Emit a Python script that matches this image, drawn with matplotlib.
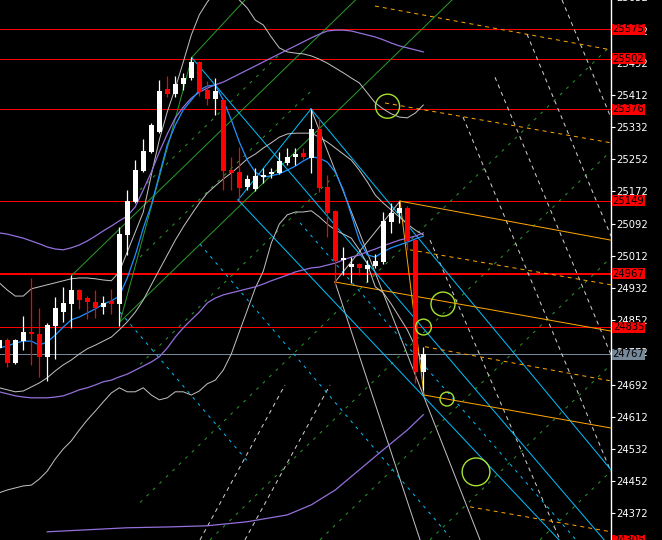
import matplotlib
matplotlib.use("Agg")
import matplotlib.pyplot as plt
import matplotlib.transforms as mtransforms
from matplotlib.patches import Rectangle

# ---- candles (bar index -1 .. 52) ----
bars = list(range(-1, 53))
opens = [24783, 24803, 24746, 24800, 24823, 24818, 24761, 24838, 24872, 24892,
         24927, 24907, 24897, 24885, 24900, 24892, 25064, 25146, 25223, 25270,
         25320, 25427, 25414, 25439, 25454, 25494, 25424, 25402, 25399, 25225,
         25220, 25183, 25178, 25208, 25216, 25218, 25243, 25258, 25268, 25255,
         25327, 25183, 25124, 25002, 24984, 24992, 24979, 24987, 24997, 25096,
         25119, 25131, 25051, 24723]
highs = [24805, 24808, 24805, 24862, 24957, 24882, 24845, 24910, 24935, 24964,
         24930, 24912, 24927, 24912, 24930, 25084, 25176, 25250, 25303, 25342,
         25449, 25459, 25459, 25467, 25506, 25496, 25447, 25454, 25404, 25258,
         25283, 25213, 25230, 25230, 25230, 25270, 25280, 25280, 25280, 25377,
         25357, 25213, 25126, 25034, 25009, 24994, 25002, 25017, 25121, 25143,
         25149, 25136, 25053, 24786]
lows = [24781, 24736, 24743, 24778, 24741, 24711, 24701, 24756, 24848, 24833,
        24880, 24855, 24858, 24868, 24868, 24838, 25014, 25143, 25220, 25268,
        25317, 25407, 25407, 25424, 25449, 25409, 25387, 25362, 25176, 25176,
        25151, 25176, 25173, 25193, 25206, 25216, 25238, 25238, 25253, 25218,
        25171, 25059, 24940, 24964, 24945, 24964, 24947, 24982, 24992, 25069,
        25094, 25027, 24696, 24679]
closes = [24803, 24746, 24803, 24823, 24818, 24761, 24840, 24883, 24895, 24927,
          24902, 24897, 24882, 24895, 24892, 25066, 25148, 25225, 25273, 25337,
          25422, 25414, 25439, 25454, 25494, 25419, 25402, 25422, 25223, 25218,
          25181, 25203, 25211, 25213, 25220, 25248, 25258, 25265, 25258, 25327,
          25181, 25119, 25000, 25007, 24992, 24982, 24989, 24999, 25099, 25119,
          25131, 25049, 24723, 24767]

# ---- indicator curves (one value per bar) ----
fast_ma = [24783, 24788, 24795, 24800, 24800, 24790, 24798, 24815, 24835, 24853,
           24860, 24870, 24880, 24892, 24900, 24912, 24957, 25014, 25081, 25138,
           25213, 25288, 25337, 25375, 25399, 25424, 25434, 25437, 25399, 25350,
           25295, 25250, 25220, 25208, 25211, 25216, 25225, 25235, 25248, 25258,
           25255, 25245, 25220, 25176, 25114, 25051, 25014, 25009, 25022, 25032,
           25039, 25046, 25054, 25061]
env_upper = [25069, 25066, 25061, 25056, 25049, 25042, 25034, 25029, 25027, 25032,
             25039, 25049, 25061, 25074, 25086, 25099, 25111, 25134, 25176, 25220,
             25270, 25315, 25355, 25382, 25404, 25419, 25429, 25437, 25444, 25454,
             25464, 25474, 25484, 25494, 25504, 25514, 25524, 25534, 25544, 25554,
             25563, 25571, 25573, 25573, 25571, 25566, 25561, 25556, 25549, 25541,
             25534, 25529, 25524, 25519]
env_lower = [24674, 24669, 24664, 24661, 24659, 24659, 24659, 24661, 24664, 24671,
             24679, 24684, 24691, 24699, 24703, 24711, 24718, 24728, 24738, 24748,
             24761, 24783, 24810, 24833, 24853, 24872, 24895, 24907, 24915, 24920,
             24925, 24930, 24935, 24942, 24950, 24957, 24964, 24972, 24977, 24982,
             24984, 24989, 24994, 25002, 25009, 25014, 25022, 25029, 25037, 25044,
             25051, 25056, 25061, 25069]
bb_upper = [24945, 24927, 24912, 24912, 24930, 24935, 24940, 24945, 24950, 24955,
            24957, 24957, 24955, 24952, 24950, 24972, 25022, 25071, 25121, 25213,
            25300, 25370, 25429, 25494, 25561, 25611, 25643, 25668, 25678, 25668,
            25648, 25628, 25598, 25586, 25556, 25529, 25519, 25516, 25514, 25509,
            25501, 25491, 25479, 25467, 25454, 25442, 25417, 25392, 25377, 25365,
            25357, 25355, 25367, 25387]
bb_mid = [24684, 24679, 24674, 24676, 24686, 24696, 24709, 24726, 24741, 24753,
          24768, 24781, 24790, 24800, 24810, 24828, 24848, 24872, 24902, 24940,
          24977, 25014, 25051, 25084, 25114, 25143, 25168, 25186, 25203, 25218,
          25235, 25253, 25265, 25280, 25293, 25307, 25315, 25317, 25317, 25317,
          25307, 25295, 25280, 25265, 25250, 25225, 25196, 25163, 25143, 25126,
          25109, 25091, 25076, 25064]
bb_lower = [24423, 24430, 24435, 24440, 24442, 24457, 24477, 24507, 24532, 24552,
            24579, 24604, 24626, 24649, 24671, 24684, 24674, 24674, 24684, 24666,
            24654, 24659, 24674, 24674, 24666, 24676, 24694, 24703, 24728, 24768,
            24823, 24877, 24932, 24974, 25044, 25091, 25114, 25121, 25121, 25124,
            25109, 25091, 25076, 25066, 25056, 25027, 24992, 24935, 24920, 24892,
            24860, 24828, 24786, 24741]
slow_bars = [5, 10, 15, 20, 25, 30, 35, 38, 41, 44, 47, 50, 52]
slow_lower = [24326, 24331, 24336, 24338, 24341, 24351, 24368, 24393, 24430,
              24480, 24530, 24579, 24617]

# ---- drawn objects: (bar0, price0, bar1, price1) ----
green_solid = [(14.09, 24848, 55.59, 25648), (8.09, 24964, 43.52, 25648),
               (14.09, 24848, 23.09, 25506), (23.09, 25506, 29.71, 25648)]
green_dashed = [(16.6, 24742, 41.0, 25213), (16.6, 25009, 38.3, 25428),
                (16.6, 25176, 34.3, 25518), (25.34, 24306, 75.46, 25273),
                (16.6, 24399, 75.46, 25535), (39.09, 24306, 75.46, 25008),
                (52.84, 24306, 75.46, 24742), (66.59, 24306, 75.46, 24477)]
blue_solid = [(23.09, 25504, 75.46, 24286), (37.96, 25377, 28.84, 25151),
              (37.96, 25377, 75.46, 24480), (28.84, 25151, 75.46, 24169)]
blue_dashed = [(24.09, 25041, 55.34, 24313), (36.59, 25094, 71.09, 24306),
               (14.09, 24872, 30.09, 24500)]
orange_solid = [(49.09, 25148, 75.46, 25051), (40.96, 24947, 75.46, 24825),
                (49.09, 25148, 52.09, 24666), (52.09, 24666, 75.46, 24584)]
orange_dashed = [(45.96, 25633, 75.46, 25524), (47.21, 25392, 75.46, 25293),
                 (50.34, 25027, 75.46, 24940), (52.21, 24786, 75.46, 24701),
                 (57.84, 24388, 75.46, 24326)]
gray_dashed = [(69.34, 25648, 75.46, 25355), (64.96, 25563, 75.46, 25061),
               (60.96, 25456, 75.46, 24766), (56.96, 25357, 75.46, 24475),
               (52.84, 25051, 69.09, 24306), (24.09, 24306, 34.71, 24691),
               (29.71, 24306, 40.34, 24691)]
gray_solid = [(40.96, 24947, 49.09, 25148), (37.96, 25377, 59.09, 24306),
              (40.96, 24947, 51.59, 24306)]
circle_bars = [47.53, 54.46, 52.02, 54.96, 58.59]
circle_prices = [25384, 24892, 24835, 24656, 24475]
circle_sizes = [300, 300, 130, 100, 400]

level_red = [25575, 25502, 25376, 25149, 24835]
level_main = 24967
level_now = 24767
box_levels = ['25575', '25502', '25376', '25149', '24967', '24835', '24305']
tick_prices = [25572, 25492, 25412, 25332, 25252, 25172, 25092, 25012, 24932,
               24852, 24772, 24692, 24612, 24532, 24452, 24372]

FONT = ['Liberation Sans Narrow', 'DejaVu Sans']
LW = 0.72  # one screen pixel

fig = plt.figure(figsize=(6.62, 5.4), dpi=100)
fig.set_facecolor('black')
ax = fig.add_axes([0, 0, 611 / 662, 1])
ax.set_facecolor('black')
ax.set_xlim(-0.91, 75.46)
ax.set_ylim(24305.6, 25648)

for s in ['top', 'bottom', 'left']:
    ax.spines[s].set_visible(False)
ax.spines['right'].set_color('white')
ax.spines['right'].set_linewidth(1)
ax.set_xticks([])
ax.yaxis.tick_right()
ax.set_yticks(tick_prices)
ax.set_yticklabels([str(t) for t in tick_prices], family=FONT)
ax.tick_params(axis='y', colors='white', labelsize=7.2, length=3, width=0.8, pad=1)

# horizontal levels
for lv in level_red:
    ax.axhline(lv, color='#ff0000', lw=LW, zorder=2)
ax.axhline(level_main, color='#ff0000', lw=1.45, zorder=2)
ax.axhline(level_now, color='#778899', lw=LW, zorder=2)


def segs(lst, **kw):
    for b0, p0, b1, p1 in lst:
        ax.plot([b0, b1], [p0, p1], **kw)


segs(green_solid, color='#2a9a2a', lw=LW, zorder=3)
segs(green_dashed, color='#2a9a2a', lw=LW, ls=(0, (3, 6)), zorder=3)
segs(gray_solid, color='#c0c0c0', lw=LW, zorder=3)
segs(gray_dashed, color='#d0d0d0', lw=LW, ls=(0, (4, 4)), zorder=3)
segs(blue_solid, color='#00bfff', lw=LW, zorder=3)
segs(blue_dashed, color='#00bfff', lw=LW, ls=(0, (3, 5)), zorder=3)
segs(orange_solid, color='#ffa500', lw=LW, zorder=3)
segs(orange_dashed, color='#ffa500', lw=LW, ls=(0, (4, 4)), zorder=3)

# indicators
for series in (bb_upper, bb_mid, bb_lower):
    ax.plot(bars, series, color='#c0c0c0', lw=LW, zorder=4)
ax.plot(bars, env_upper, color='#9370db', lw=0.9, zorder=4)
ax.plot(bars, env_lower, color='#9370db', lw=0.9, zorder=4)
ax.plot(slow_bars, slow_lower, color='#9370db', lw=0.9, zorder=4)
ax.plot(bars, fast_ma, color='#1e90ff', lw=0.9, zorder=4)

# circles
ax.scatter(circle_bars, circle_prices, s=circle_sizes, facecolors='none',
           edgecolors='#a6e22e', linewidths=1.0, zorder=7)

# candles
for k, o, h, l, c in zip(bars, opens, highs, lows, closes):
    col = 'white' if c >= o else '#ff0000'
    ax.vlines(k, l, h, color=col, lw=0.9, zorder=6)
    ax.bar(k, max(abs(c - o), 2.5), bottom=min(o, c), width=0.62, color=col,
           linewidth=0, zorder=6)

# right-hand price boxes
tr = mtransforms.blended_transform_factory(ax.transAxes, ax.transData)
px = 1 / 611
box_h = 11 * 2.4855
for txt in box_levels:
    p = float(txt)
    ax.add_patch(Rectangle((1 + 1.5 * px, p - box_h / 2), 32 * px, box_h,
                           transform=tr, facecolor='#ff0000', edgecolor='none',
                           clip_on=False, zorder=10))
    ax.text(1 + 17.5 * px, p, txt, transform=tr, ha='center', va='center',
            fontsize=7.2, family=FONT, color='black', clip_on=False, zorder=11)
ax.add_patch(Rectangle((1 + 1.5 * px, level_now - box_h / 2), 32 * px, box_h,
                       transform=tr, facecolor='#778899', edgecolor='none',
                       clip_on=False, zorder=10))
ax.text(1 + 17.5 * px, level_now, str(level_now), transform=tr, ha='center',
        va='center', fontsize=7.2, family=FONT, color='black', clip_on=False,
        zorder=11)
ax.text(1 + 5 * px, 25652, '25652', transform=tr, ha='left', va='center',
        fontsize=7.2, family=FONT, color='white', clip_on=False)

fig.savefig('out.png', dpi=100, facecolor='black')
